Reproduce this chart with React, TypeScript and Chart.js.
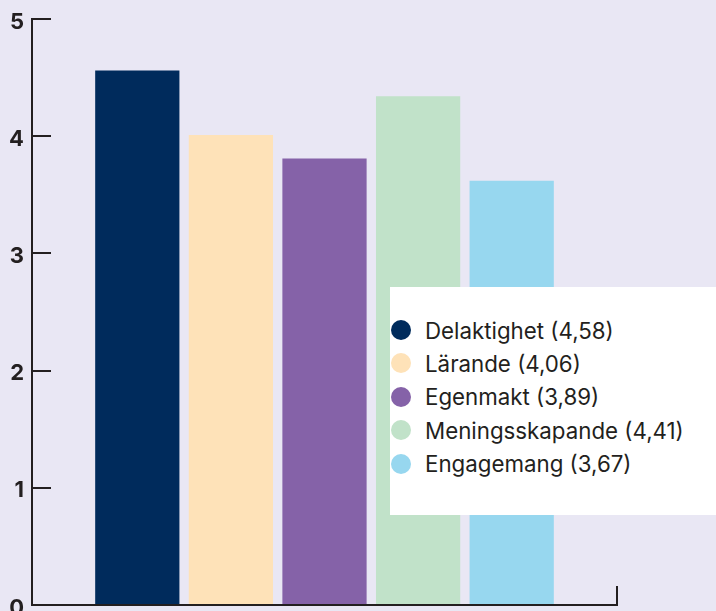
import React, { useEffect, useRef } from 'react';
import { Chart, registerables } from 'chart.js';

Chart.register(...registerables);

const categories = [''];
const seriesNames = ['Delaktighet', 'Lärande', 'Egenmakt', 'Meningsskapande', 'Engagemang'];
const seriesValues = [4.56, 4.01, 3.81, 4.34, 3.62];
const legendValues = ['4,58', '4,06', '3,89', '4,41', '3,67'];
const seriesColors = ['#002b5c', '#fee2b8', '#8562a8', '#c1e2c9', '#97d7ef'];
const yMin = 0;
const yMax = 5;
const yStep = 1;

const INK = '#231f20';
const BG = '#e9e7f4';

export default function App() {
  const canvasRef = useRef<HTMLCanvasElement | null>(null);

  useEffect(() => {
    if (!canvasRef.current) return;
    const chart = new Chart(canvasRef.current, {
      type: 'bar',
      data: {
        labels: categories,
        datasets: seriesNames.map((name, i) => ({
          label: name,
          data: [seriesValues[i]],
          backgroundColor: seriesColors[i],
          borderWidth: 0,
        })),
      },
      options: {
        responsive: false,
        animation: false,
        layout: { padding: { left: 0, right: 99, top: 19, bottom: 6 } },
        plugins: { legend: { display: false }, tooltip: { enabled: false } },
        scales: {
          x: {
            grid: {
              display: true,
              drawOnChartArea: false,
              drawTicks: true,
              tickLength: -19,
              offset: true,
              color: INK,
              lineWidth: 2,
            },
            border: { display: true, color: INK, width: 2 },
            ticks: { display: false },
            afterFit: (s: any) => {
              s.height = 0;
              s.paddingLeft = 0;
              s.paddingRight = 0;
            },
          },
          y: {
            min: yMin,
            max: yMax,
            ticks: {
              stepSize: yStep,
              font: { family: 'Inter', weight: 'bold', size: 22 },
              color: INK,
              padding: 8 + 19,
              labelOffset: 3,
            },
            grid: {
              drawOnChartArea: false,
              drawTicks: true,
              tickLength: -19,
              color: INK,
              lineWidth: 2,
            },
            border: { display: true, color: INK, width: 2 },
            afterFit: (s: any) => {
              s.width = 32;
              s.paddingTop = 0;
              s.paddingBottom = 0;
            },
          },
        },
      },
    } as any);
    return () => chart.destroy();
  }, []);

  return (
    <div
      style={{
        position: 'fixed',
        left: 0,
        top: 0,
        width: 716,
        height: 611,
        background: BG,
        overflow: 'hidden',
      }}
    >
      <canvas ref={canvasRef} width={716} height={611} style={{ display: 'block' }} />
      <div
        style={{
          position: 'absolute',
          left: 390,
          top: 287,
          width: 326,
          height: 228,
          background: '#ffffff',
          fontFamily: 'Inter, sans-serif',
          fontSize: 22.3,
          color: INK,
        }}
      >
        {seriesNames.map((name, i) => (
          <div
            key={name}
            style={{
              position: 'absolute',
              left: 0,
              top: 43 + i * 33.4 - 15,
              height: 30,
              display: 'flex',
              alignItems: 'center',
              whiteSpace: 'nowrap',
            }}
          >
            <span
              style={{
                display: 'inline-block',
                width: 20,
                height: 20,
                borderRadius: '50%',
                background: seriesColors[i],
                marginLeft: 1,
                marginRight: 14,
              }}
            />
            <span>{`${name} (${legendValues[i]})`}</span>
          </div>
        ))}
      </div>
    </div>
  );
}
